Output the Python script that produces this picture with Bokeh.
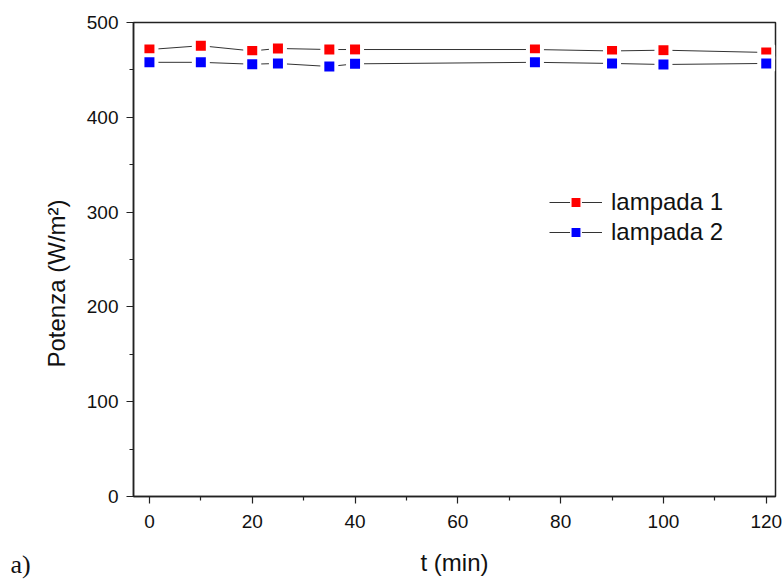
from bokeh.plotting import figure
from bokeh.models import Range1d, Legend, LegendItem, Label, FixedTicker
from bokeh.embed import file_html
from bokeh.resources import INLINE

t_min = [0, 10, 20, 25, 35, 40, 75, 90, 100, 120]
lampada1 = [471.5, 475.5, 470.0, 472.6, 471.5, 471.5, 471.5, 470.0, 470.8, 468.4]
lampada2 = [458.0, 458.0, 456.0, 456.8, 453.6, 456.4, 458.0, 456.8, 455.7, 456.8]
x_ticks = [0, 20, 40, 60, 80, 100, 120]
y_ticks = [0, 100, 200, 300, 400, 500]

p = figure(width=782, height=580, output_backend="svg", toolbar_location=None,
           x_range=Range1d(-3.1, 121.8), y_range=Range1d(0, 500),
           min_border_left=133, min_border_right=7, min_border_top=22, min_border_bottom=84)
p.grid.visible = False
p.outline_line_color = "#222222"
p.outline_line_width = 1.5
p.background_fill_color = "white"
p.border_fill_color = "white"

for ax in (p.xaxis[0], p.yaxis[0]):
    ax.axis_line_color = "#222222"
    ax.axis_line_width = 1.5
    ax.major_tick_line_color = "#222222"
    ax.minor_tick_line_color = "#222222"
    ax.major_tick_line_width = 1.2
    ax.minor_tick_line_width = 1.2
    ax.major_tick_in = 0
    ax.major_tick_out = 7
    ax.minor_tick_in = 0
    ax.minor_tick_out = 4
    ax.major_label_text_font = "Liberation Sans"
    ax.major_label_text_font_size = "19px"
    ax.major_label_text_color = "#111111"
    ax.axis_label_text_font = "Liberation Sans"
    ax.axis_label_text_font_style = "normal"
    ax.axis_label_text_font_size = "24px"
    ax.axis_label_text_color = "#111111"

p.xaxis.ticker = FixedTicker(ticks=x_ticks, minor_ticks=[10, 30, 50, 70, 90, 110])
p.yaxis.ticker = FixedTicker(ticks=y_ticks, minor_ticks=[50, 150, 250, 350, 450])
p.xaxis.axis_label = "t (min)"
p.yaxis.axis_label = "Potenza (W/m²)\u2003\u2003"
p.xaxis.major_label_standoff = 11
p.yaxis.major_label_standoff = 8
p.xaxis.axis_label_standoff = 18
p.yaxis.axis_label_standoff = 14

l1 = p.line(t_min, lampada1, line_color="#333333", line_width=1)
l2 = p.line(t_min, lampada2, line_color="#333333", line_width=1)
# legend-style markers (hidden below the main markers)
k1 = p.scatter(t_min, lampada1, marker="square", size=10, fill_color="#ff0000",
               line_color="white", line_width=1.5)
k2 = p.scatter(t_min, lampada2, marker="square", size=10, fill_color="#0000ff",
               line_color="white", line_width=1.5)
m1 = p.scatter(t_min, lampada1, marker="square", size=14, fill_color="#ff0000",
               line_color="white", line_width=4)
m2 = p.scatter(t_min, lampada2, marker="square", size=14, fill_color="#0000ff",
               line_color="white", line_width=4)

legend = Legend(items=[LegendItem(label="lampada 1", renderers=[l1, k1]),
                       LegendItem(label="lampada 2", renderers=[l2, k2])],
                location=(416, 250), border_line_color=None, background_fill_alpha=0,
                label_text_font="Liberation Sans", label_text_font_size="24px",
                label_text_color="#111111", glyph_width=53, glyph_height=26,
                label_height=26, spacing=2, padding=5, margin=0, label_standoff=9)
p.add_layout(legend, "center")

tag = Label(x=-9, y=-82, x_units="screen", y_units="screen", text="a)",
            text_font="Liberation Serif", text_font_size="26px", text_color="#111111")
p.add_layout(tag, "left")

open("out.html", "w").write(file_html(p, INLINE))
